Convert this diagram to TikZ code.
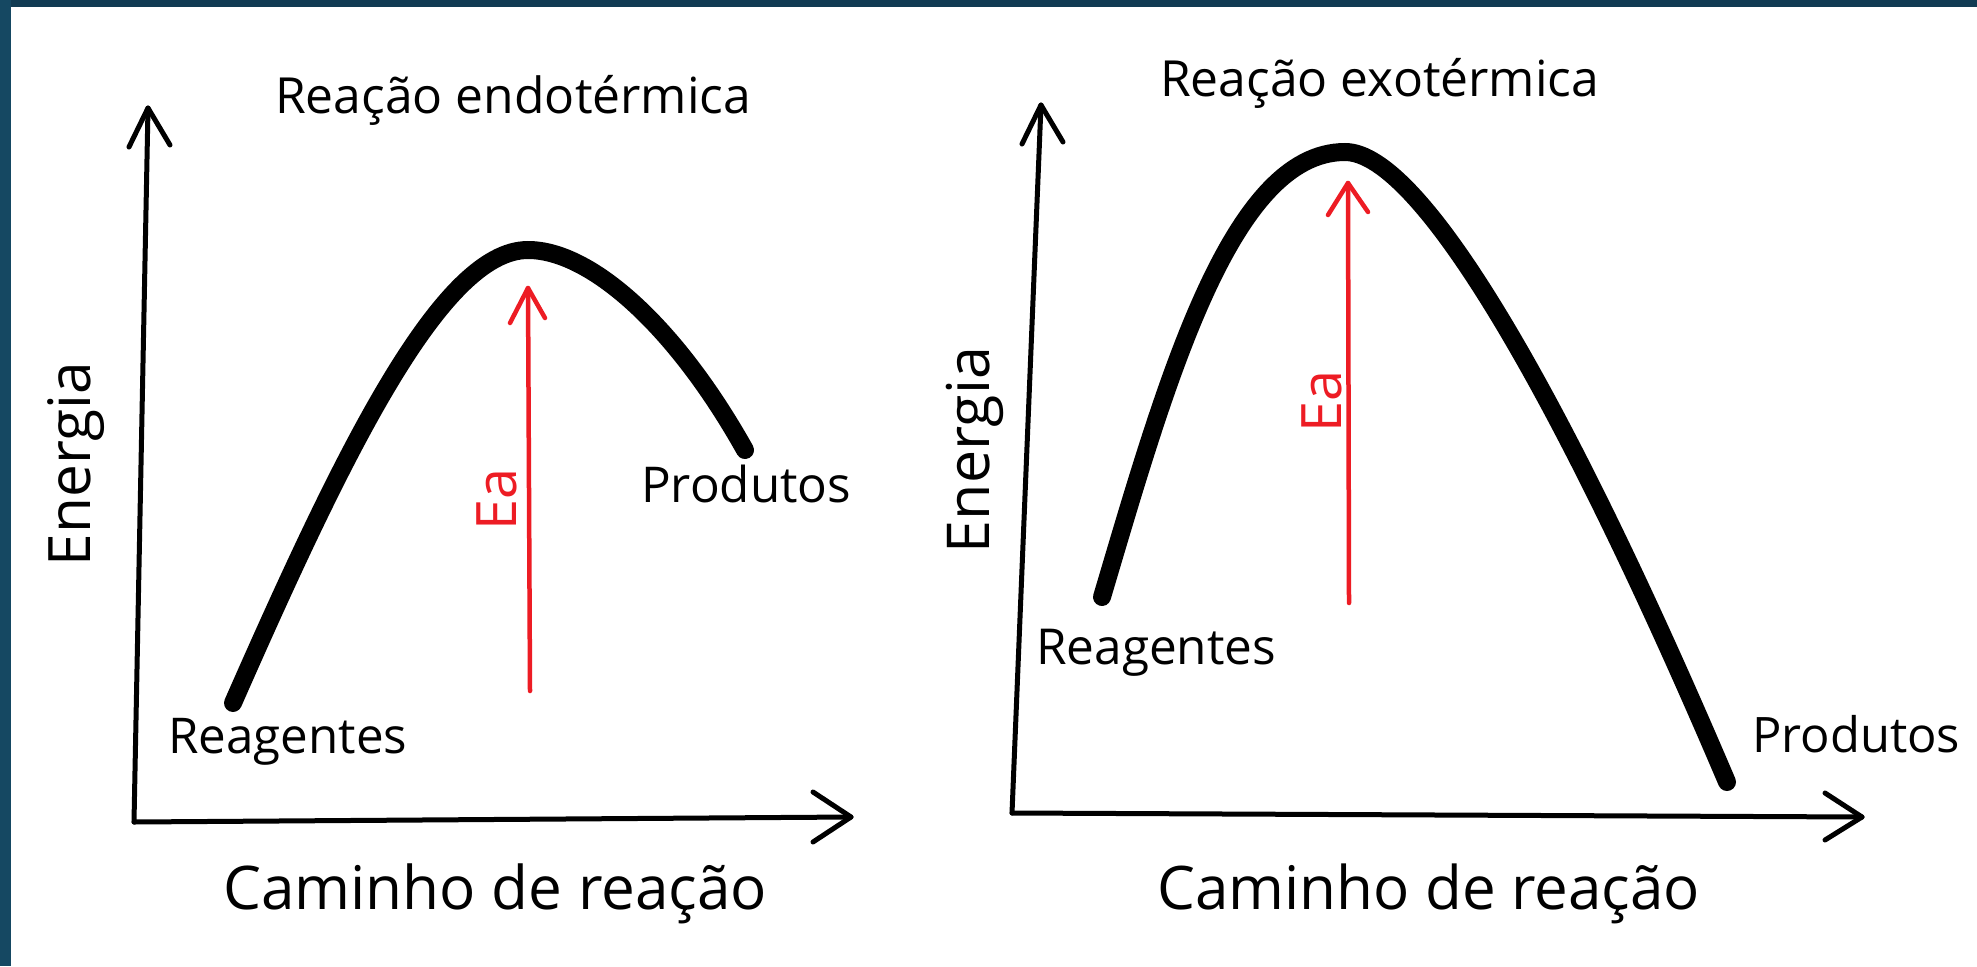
\documentclass[tikz,border=0pt]{standalone}
\usepackage{fontspec}
\setmainfont{Open Sans}
\usepackage{graphicx}
\definecolor{frameL}{HTML}{154862}
\definecolor{frameT}{HTML}{113B53}
\definecolor{ared}{HTML}{ED1C24}
\newcommand\fitw[2]{\resizebox{#1pt}{!}{#2}}
\begin{document}
\begin{tikzpicture}[x=1pt,y=-1pt,
  axis/.style={line width=5pt, line cap=round, line join=round},
  curve/.style={line width=18pt, line cap=round},
  redarr/.style={draw=ared, line width=4.5pt, line cap=round, line join=round},
  lbl/.style={inner sep=0pt, anchor=base west, font=\fontsize{50}{60}\selectfont},
  rot/.style={inner sep=0pt, anchor=base, rotate=90, font=\fontsize{50}{60}\selectfont}]
\useasboundingbox (0,0) rectangle (1977,966);
\fill[white] (0,0) rectangle (1977,966);
\fill[frameT] (0,0) rectangle (1977,7);
\fill[frameL] (0,0) rectangle (11,966);

% ---------- left graph ----------
\coordinate (LO) at (134,822);
\coordinate (LY) at (148,108);
\coordinate (LYb1) at (129,147);
\coordinate (LYb2) at (170,145);
\coordinate (LX) at (851,817);
\coordinate (LXb1) at (813,792);
\coordinate (LXb2) at (813,842);
\draw[axis] (LO) -- (LY);
\draw[axis] (LYb1) -- (LY) -- (LYb2);
\draw[axis] (LO) -- (LX);
\draw[axis] (LXb1) -- (LX) -- (LXb2);

\coordinate (LS) at (233,703);
\coordinate (LP) at (528,250);
\coordinate (LE) at (745,450);
\draw[curve] (LS) .. controls (340,460) and (440,250) .. (LP)
             .. controls (590,250) and (675,325) .. (LE);

\coordinate (LA0) at (530,691);
\coordinate (LA1) at (528,288);
\coordinate (LAb1) at (510,323);
\coordinate (LAb2) at (545,318);
\draw[redarr] (LA0) -- (LA1);
\draw[redarr] (LAb1) -- (LA1) -- (LAb2);

% ---------- right graph ----------
\coordinate (RO) at (1012,813);
\coordinate (RY) at (1041,105);
\coordinate (RYb1) at (1022,144);
\coordinate (RYb2) at (1063,142);
\coordinate (RX) at (1862,817);
\coordinate (RXb1) at (1825,793);
\coordinate (RXb2) at (1825,840);
\draw[axis] (RO) -- (RY);
\draw[axis] (RYb1) -- (RY) -- (RYb2);
\draw[axis] (RO) -- (RX);
\draw[axis] (RXb1) -- (RX) -- (RXb2);

\coordinate (RS) at (1102,597);
\coordinate (RP) at (1345,152);
\coordinate (RE) at (1727,782);
\draw[curve] (RS) .. controls (1165,385) and (1230,152) .. (RP)
             .. controls (1420,152) and (1560,390) .. (RE);

\coordinate (RA0) at (1349,603);
\coordinate (RA1) at (1348,183);
\coordinate (RAb1) at (1328,215);
\coordinate (RAb2) at (1368,212);
\draw[redarr] (RA0) -- (RA1);
\draw[redarr] (RAb1) -- (RA1) -- (RAb2);

% ---------- texts ----------
\node[lbl] (tL) at (275,113) {\fitw{476}{Reação endotérmica}};
\node[lbl] (tR) at (1160,96) {\fitw{439}{Reação exotérmica}};
\node[lbl] (cL) at (223,909) {\fitw{544}{Caminho de reação}};
\node[lbl] (cR) at (1157,909) {\fitw{543}{Caminho de reação}};
\node[lbl] (rL) at (168,753) {\fitw{239}{Reagentes}};
\node[lbl] (pL) at (641,502) {\fitw{210}{Produtos}};
\node[lbl] (rR) at (1036,664) {\fitw{240}{Reagentes}};
\node[lbl] (pR) at (1752,752) {\fitw{208}{Produtos}};
\node[rot] (eL) at (90,464) {\fitw{204}{Energia}};
\node[rot] (eR) at (989,450) {\fitw{206}{Energia}};
\node[rot, text=ared] (aL) at (516,499) {\fitw{62}{Ea}};
\node[rot, text=ared] (aR) at (1341,401) {\fitw{62}{Ea}};
\end{tikzpicture}
\end{document}
